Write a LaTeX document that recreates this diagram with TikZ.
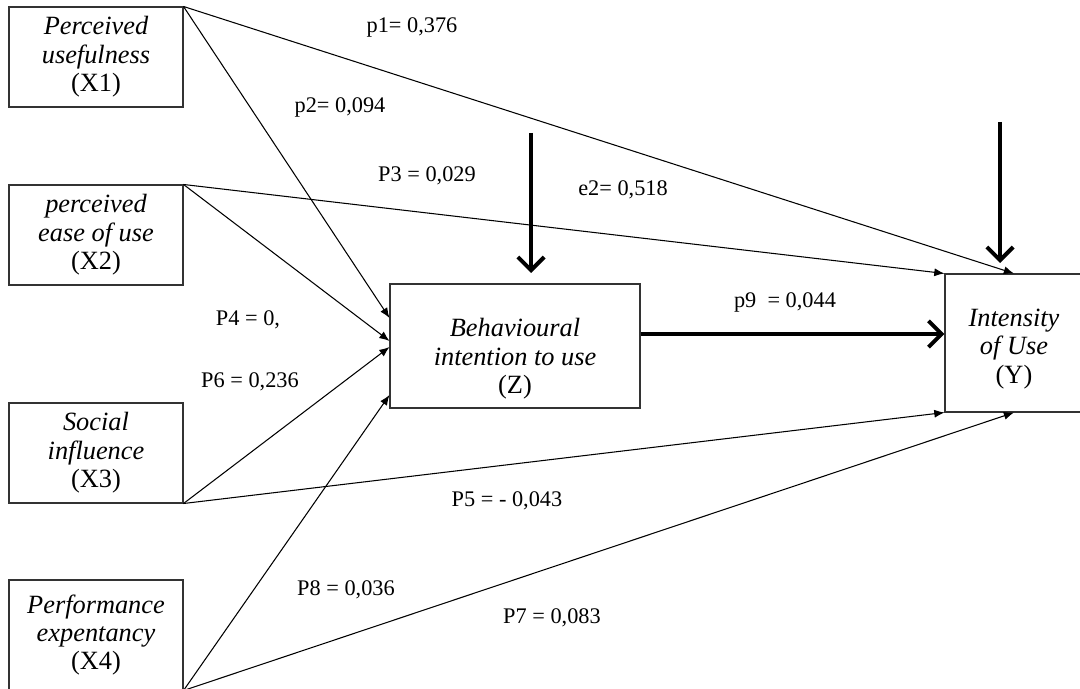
\documentclass[tikz,border=0pt]{standalone}
\usepackage{fontspec}
\setmainfont{Liberation Serif}
\usetikzlibrary{calc}
\usetikzlibrary{arrows.meta}

\begin{document}
\begin{tikzpicture}[x=0.02cm, y=-0.02cm,
	varbox/.style = {draw=black!80, line width=0.6pt, align=center, inner sep=0pt, minimum width=3.48cm, minimum height=2cm, font=\fontsize{15}{16.2}\selectfont\itshape},
	boxtxt/.style = {align=center, inner sep=0pt, font=\fontsize{15}{16.2}\selectfont\itshape},
	coef/.style = {font=\fontsize{12.7}{15}\selectfont, inner sep=1pt},
	link/.style = {line width=0.6pt, -{Latex[length=5.8pt, width=4.6pt]}},
	strong/.style = {line width=2.3pt, -{Straight Barb[length=7.5pt, width=15pt]}}
]
\useasboundingbox (0,0) rectangle (1080,689);

% Exogenous variables on the left
\node[varbox] (X1) at (96,57) {Perceived\\usefulness\\\upshape(X1)};
\node[varbox] (X2) at (96,235) {perceived\\ease of use\\\upshape(X2)};
\node[varbox] (X3) at (96,453) {Social\\influence\\\upshape(X3)};
\node[varbox, minimum height=2.2cm] (X4) at (96,635) {Performance\\expentancy\\\upshape(X4)};

% Intervening variable and dependent variable
\node[varbox, minimum width=5cm, minimum height=2.48cm] (Z) at (515,346) {};
\node[boxtxt] (Ztxt) at ($(Z.center)+(0,13)$) {Behavioural\\intention to use\\\upshape(Z)};
\node[varbox, minimum width=2.76cm, minimum height=2.76cm] (Y) at (1014,343) {};
\node[boxtxt] (Ytxt) at ($(Y.center)+(0,6)$) {Intensity\\of Use\\\upshape(Y)};

% Entry points on the left side of Z
\coordinate (Zin1) at ($(Z.west)+(0,-28)$);
\coordinate (Zin2) at ($(Z.west)+(0,-5)$);
\coordinate (Zin3) at ($(Z.west)+(0,1)$);
\coordinate (Zin4) at ($(Z.west)+(0,49)$);
\coordinate (Zout) at ($(Z.east)+(0,-12)$);
\coordinate (Yin) at ($(Y.west)+(0,-9)$);

% Error terms
\coordinate (eZ) at (531,133);
\coordinate (eZend) at (531,273);
\coordinate (eY) at (1000,122);
\coordinate (eYend) at (1000,263);

% Paths
\draw[link] (X1.north east) -- (Zin1);
\draw[link] (X1.north east) -- (Y.north);
\draw[link] (X2.north east) -- (Zin2);
\draw[link] (X2.north east) -- (Y.north west);
\draw[link] (X3.south east) -- (Zin3);
\draw[link] (X3.south east) -- (Y.south west);
\draw[link] (X4.south east) -- (Zin4);
\draw[link] (X4.south east) -- (Y.south);
\draw[strong] (Zout) -- (Yin);
\draw[strong] (eZ) -- (eZend);
\draw[strong] (eY) -- (eYend);

% Path coefficients
\node[coef] (p1) at (412,27) {p1= 0,376};
\node[coef] (p2) at (340,107) {p2= 0,094};
\node[coef] (p3) at (427,176) {P3 = 0,029};
\node[coef] (e2) at (623,190) {e2= 0,518};
\node[coef] (p4) at (248,320) {P4 = 0,};
\node[coef] (p6) at (250,382) {P6 = 0,236};
\node[coef] (p9) at (785,302) {p9~ = 0,044};
\node[coef] (p5) at (507,501) {P5 = - 0,043};
\node[coef] (p8) at (346,590) {P8 = 0,036};
\node[coef] (p7) at (552,618) {P7 = 0,083};

\end{tikzpicture}
\end{document}
